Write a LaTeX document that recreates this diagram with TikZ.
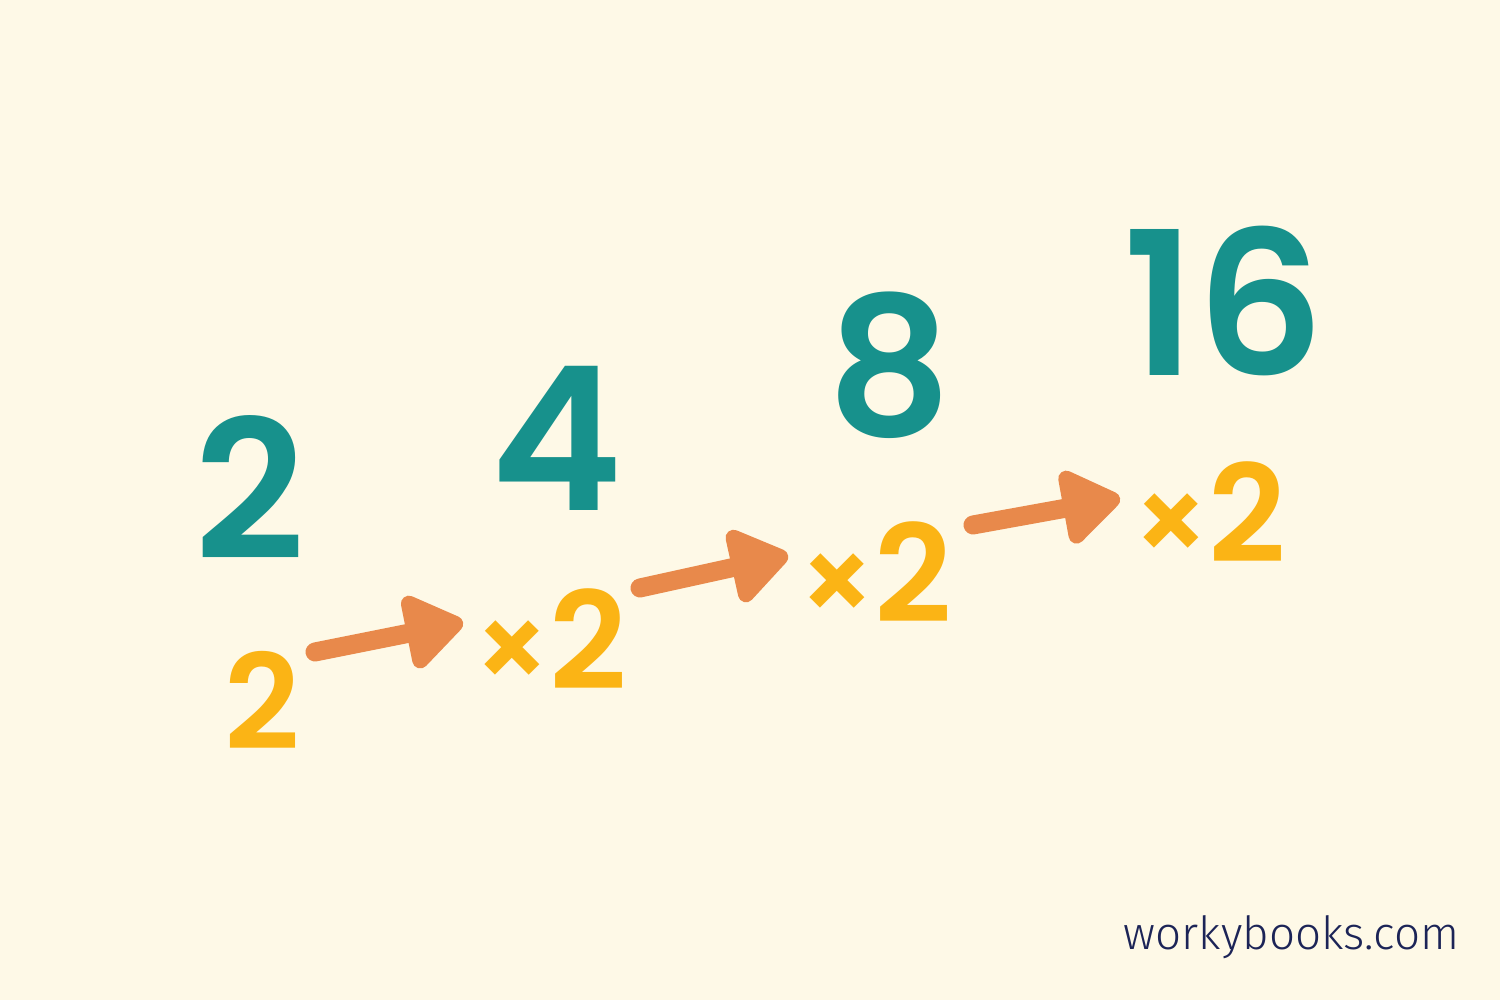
\documentclass[tikz,border=0pt]{standalone}
\usepackage{fontspec}
\usetikzlibrary{arrows.meta}
\newfontfamily\numfont{Poppins}[UprightFont=* SemiBold]
\newfontfamily\wbfont{Fira Sans}[UprightFont=* Light]
\definecolor{bgc}{HTML}{FEF9E7}
\definecolor{tealc}{HTML}{17918C}
\definecolor{yelc}{HTML}{FBB415}
\definecolor{orc}{HTML}{E8894B}
\definecolor{navyc}{HTML}{1C2457}
\newcommand{\fsz}[1]{\fontsize{#1}{#1}\selectfont}
\newcommand{\timestwo}{{\fsz{33}×}\hspace{-0.02cm}2}
\tikzset{
  bignum/.style={anchor=base, text=tealc, font=\numfont, inner sep=0pt},
  smallnum/.style={anchor=base, text=yelc, font=\numfont\fsz{38.5}, inner sep=0pt},
  growarrow/.style={draw=orc, line width=0.19cm, line cap=round,
    -{Triangle[length=0.64cm, width=0.84cm, round]}, shorten >=0.02cm}
}
\begin{document}
\begin{tikzpicture}[x=1cm,y=1cm]
\fill[bgc] (0,0) rectangle (15,10);
\useasboundingbox (0,0) rectangle (15,10);
% teal sequence
\node[bignum, font=\numfont\fsz{55}] (t1) at (2.50,4.40) {2};
\node[bignum, font=\numfont\fsz{57}] (t2) at (5.57,4.89) {4};
\node[bignum, font=\numfont\fsz{55}] (t3) at (8.90,5.64) {8};
\node[bignum, font=\numfont\fsz{57}] (t4) at (12.24,6.24) {16};
% yellow
\node[smallnum, font=\numfont\fsz{37.5}] (y0) at (2.62,2.50) {2};
\node[smallnum] (y1) at (5.50,3.10) {\timestwo};
\node[smallnum] (y2) at (8.75,3.77) {\timestwo};
\node[smallnum] (y3) at (12.09,4.37) {\timestwo};
% arrows
\coordinate (a1s) at (3.15,3.48);
\coordinate (a1e) at (4.65,3.78);
\coordinate (a2s) at (6.40,4.12);
\coordinate (a2e) at (7.90,4.45);
\coordinate (a3s) at (9.73,4.75);
\coordinate (a3e) at (11.22,5.02);
\draw[growarrow] (a1s) -- (a1e);
\draw[growarrow] (a2s) -- (a2e);
\draw[growarrow] (a3s) -- (a3e);
% watermark
\node[anchor=base east, text=navyc, font=\wbfont\fsz{13}, inner sep=0pt] (wb) at (14.60,0.50) {workybooks.com};
\end{tikzpicture}
\end{document}
